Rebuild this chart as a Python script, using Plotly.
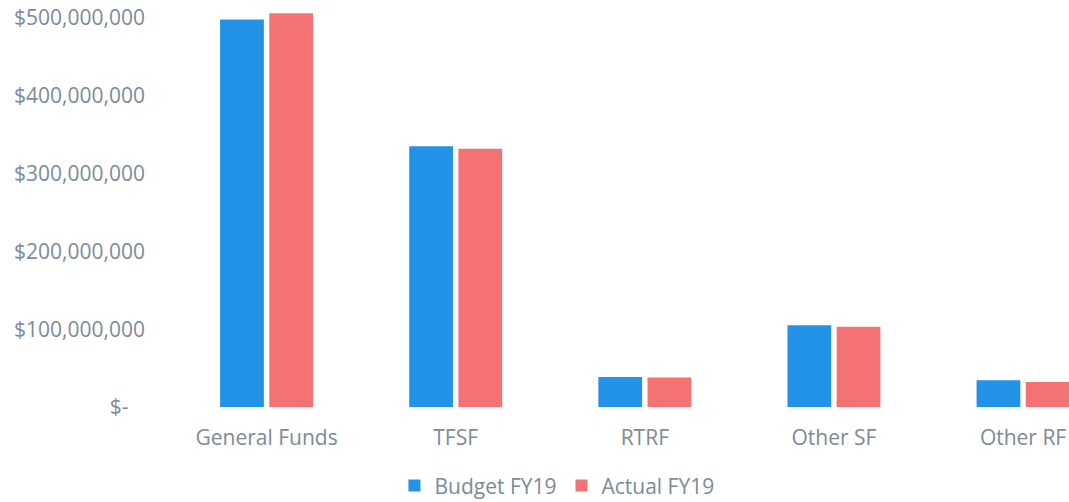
import plotly.graph_objects as go

categories = ["General Funds", "TFSF", "RTRF", "Other SF", "Other RF"]
budget_fy19 = [498e6, 335e6, 38.6e6, 105e6, 34.3e6]
actual_fy19 = [506e6, 332e6, 37.8e6, 103e6, 32.2e6]

tick_vals = [0, 100e6, 200e6, 300e6, 400e6, 500e6]
tick_text = ["$-\u00a0\u00a0\u00a0", "$100,000,000", "$200,000,000", "$300,000,000",
             "$400,000,000", "$500,000,000"]

label_color = "#7b8b99"
font_family = "Open Sans"

fig = go.Figure()
fig.add_trace(go.Bar(x=categories, y=budget_fy19, name="Budget FY19",
                     marker=dict(color="#2293e6", line=dict(width=0))))
fig.add_trace(go.Bar(x=categories, y=actual_fy19, name="Actual FY19",
                     marker=dict(color="#f57273", line=dict(width=0))))

fig.update_layout(
    width=1069, height=502,
    barmode="group", bargap=0.48, bargroupgap=0.11,
    plot_bgcolor="white", paper_bgcolor="white",
    margin=dict(l=172, r=0, t=0, b=95),
    font=dict(family=font_family, size=21, color=label_color),
    showlegend=True,
    legend=dict(orientation="h", xref="container", yref="container",
                x=0.521, xanchor="center", y=0.032, yanchor="middle",
                font=dict(size=21, color=label_color), itemwidth=30),
)
fig.update_xaxes(range=[-0.5, 4.243], showgrid=False, showline=False, zeroline=False,
                 automargin=False,
                 tickfont=dict(size=21, color=label_color), ticklabelstandoff=16)
fig.update_yaxes(range=[0, 523e6], tickvals=tick_vals, ticktext=tick_text,
                 showgrid=False, showline=False, zeroline=False, automargin=False,
                 tickfont=dict(size=21, color=label_color), ticklabelstandoff=26)

# drop the default page margin so the figure sits at the window's corner
fig.write_html("out.html", config={"displayModeBar": False},
               post_script="document.body.style.margin='0';")
